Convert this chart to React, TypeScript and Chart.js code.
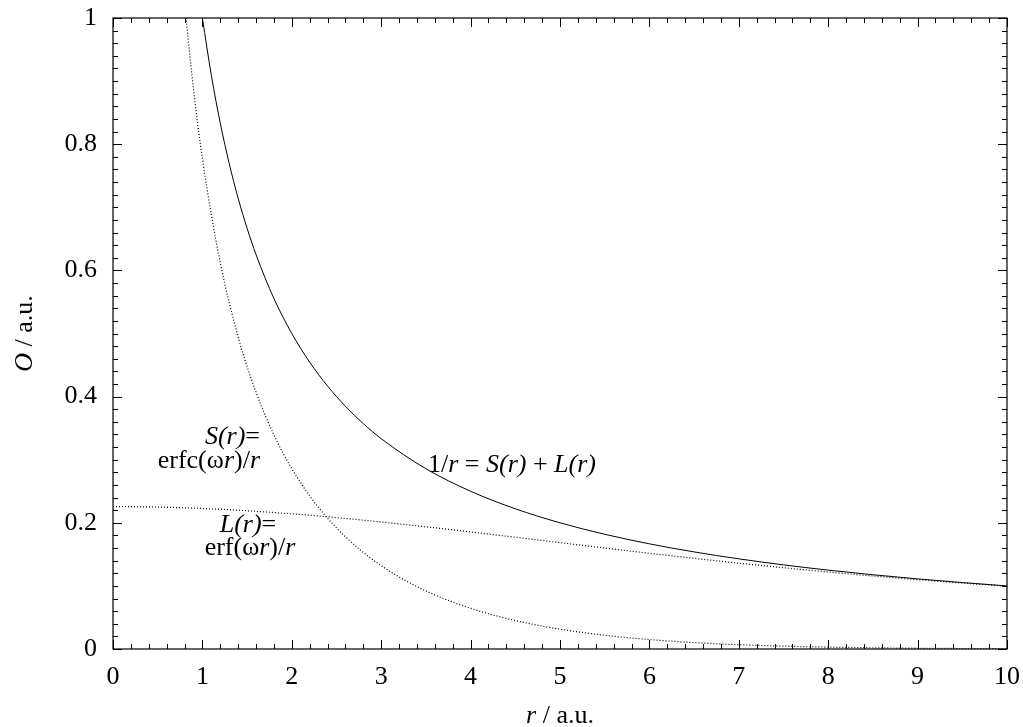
import React, { useEffect, useRef } from "react";
import { Chart, registerables } from "chart.js";

Chart.register(...registerables);

// r values and 1/r (total potential)
const rTotal = [1.0, 1.1, 1.2, 1.3, 1.4, 1.5, 1.6, 1.8, 2.0, 2.2, 2.4, 2.6, 2.8, 3.0, 3.5, 4.0, 4.5, 5.0, 5.5, 6.0, 6.5, 7.0, 7.5, 8.0, 8.5, 9.0, 9.5, 10.0];
const totalValues = [1.0, 0.90909, 0.83333, 0.76923, 0.71429, 0.66667, 0.625, 0.55556, 0.5, 0.45455, 0.41667, 0.38462, 0.35714, 0.33333, 0.28571, 0.25, 0.22222, 0.2, 0.18182, 0.16667, 0.15385, 0.14286, 0.13333, 0.125, 0.11765, 0.11111, 0.10526, 0.1];

// short-range part S(r) = erfc(wr)/r
const rShort = [0.7, 0.75, 0.8, 0.9, 1.0, 1.2, 1.4, 1.5, 1.6, 1.8, 2.0, 2.2, 2.4, 2.5, 2.6, 2.8, 3.0, 3.2, 3.4, 3.6, 3.8, 4.0, 4.2, 4.4, 4.6, 4.8, 5.0, 5.5, 6.0, 6.5, 7.0, 7.5, 8.0, 8.5, 9.0, 9.5, 10.0];
const shortValues = [1.2044, 1.1093, 1.02624, 0.88785, 0.7773, 0.61192, 0.49437, 0.44758, 0.4068, 0.33926, 0.2858, 0.24262, 0.20719, 0.1918, 0.17773, 0.15299, 0.13205, 0.11419, 0.09889, 0.08571, 0.07433, 0.06447, 0.05592, 0.04848, 0.04201, 0.03637, 0.03146, 0.02178, 0.01495, 0.01015, 0.00682, 0.00452, 0.00296, 0.00191, 0.00121, 0.00076, 0.00047];

// long-range part L(r) = erf(wr)/r
const rLong = [0.0, 0.2, 0.4, 0.6, 0.8, 1.0, 1.2, 1.4, 1.6, 1.8, 2.0, 2.2, 2.4, 2.6, 2.8, 3.0, 3.2, 3.4, 3.6, 3.8, 4.0, 4.2, 4.4, 4.6, 4.8, 5.0, 5.5, 6.0, 6.5, 7.0, 7.5, 8.0, 8.5, 9.0, 9.5, 10.0];
const longValues = [0.22568, 0.22556, 0.2252, 0.2246, 0.22377, 0.2227, 0.22142, 0.21991, 0.2182, 0.21629, 0.2142, 0.21192, 0.20948, 0.20688, 0.20415, 0.20129, 0.19831, 0.19523, 0.19206, 0.18883, 0.18553, 0.18218, 0.17879, 0.17539, 0.17196, 0.16854, 0.16004, 0.15172, 0.14369, 0.13604, 0.12881, 0.12204, 0.11574, 0.1099, 0.10451, 0.09953];

// tick labels
const xTickLabels = ["0", "1", "2", "3", "4", "5", "6", "7", "8", "9", "10"];
const yTickLabels = ["0", "0.2", "0.4", "0.6", "0.8", "1"];

const FONT = '"Liberation Serif", "Times New Roman", serif';

type Seg = [string, boolean];

function drawRich(ctx: CanvasRenderingContext2D, segs: Seg[], x: number, y: number, align: "left" | "center" | "right", size: number) {
  const fontOf = (it: boolean) => `${it ? "italic " : ""}${size}px ${FONT}`;
  let total = 0;
  const widths = segs.map(([t, it]) => {
    ctx.font = fontOf(it);
    const w = ctx.measureText(t).width;
    total += w;
    return w;
  });
  let cx = align === "left" ? x : align === "center" ? x - total / 2 : x - total;
  ctx.textAlign = "left";
  ctx.textBaseline = "alphabetic";
  segs.forEach(([t, it], i) => {
    ctx.font = fontOf(it);
    ctx.fillText(t, cx, y);
    cx += widths[i];
  });
}

const framePlugin = {
  id: "frame",
  afterDatasetsDraw(chart: any) {
    const ctx: CanvasRenderingContext2D = chart.ctx;
    const { left, right, top, bottom } = chart.chartArea;
    const xs = chart.scales.x;
    const ys = chart.scales.y;
    ctx.save();
    ctx.strokeStyle = "#000";
    ctx.lineWidth = 1.2;
    ctx.strokeRect(left, top, right - left, bottom - top);
    ctx.lineWidth = 1;
    ctx.beginPath();
    for (let i = 0; i <= 50; i++) {
      const v = i * 0.2;
      const px = Math.round(xs.getPixelForValue(v)) + 0.5;
      const len = i % 5 === 0 ? 9 : 5;
      ctx.moveTo(px, bottom);
      ctx.lineTo(px, bottom - len);
      ctx.moveTo(px, top);
      ctx.lineTo(px, top + len);
    }
    for (let i = 0; i <= 50; i++) {
      const v = i * 0.02;
      const py = Math.round(ys.getPixelForValue(v)) + 0.5;
      const len = i % 10 === 0 ? 9 : 5;
      ctx.moveTo(left, py);
      ctx.lineTo(left + len, py);
      ctx.moveTo(right, py);
      ctx.lineTo(right - len, py);
    }
    ctx.stroke();

    ctx.fillStyle = "#000";
    const fs = 26;
    // axis titles
    drawRich(ctx, [["r", true], [" / a.u.", false]], (left + right) / 2, 723, "center", fs);
    ctx.save();
    ctx.translate(32, (top + bottom) / 2);
    ctx.rotate(-Math.PI / 2);
    drawRich(ctx, [["O", true], [" / a.u.", false]], 0, 0, "center", fs);
    ctx.restore();

    // curve labels
    drawRich(ctx, [["S(r)", true], ["=", false]], 260, 444, "right", fs);
    drawRich(ctx, [["erfc(ω", false], ["r", true], [")/", false], ["r", true]], 260, 468, "right", fs);
    drawRich(ctx, [["L(r)", true], ["=", false]], 248, 532, "center", fs);
    drawRich(ctx, [["erf(ω", false], ["r", true], [")/", false], ["r", true]], 250, 555, "center", fs);
    drawRich(ctx, [["1/", false], ["r", true], [" = ", false], ["S(r)", true], [" + ", false], ["L(r)", true]], 428, 472, "left", fs);
    ctx.restore();
  },
};

const noPad = (s: any) => {
  s.paddingTop = 0;
  s.paddingBottom = 0;
  s.paddingLeft = 0;
  s.paddingRight = 0;
};

export default function App() {
  const ref = useRef<HTMLCanvasElement | null>(null);
  useEffect(() => {
    if (!ref.current) return;
    const toPts = (xs: number[], ys: number[]) => xs.map((x, i) => ({ x, y: ys[i] }));
    const chart = new Chart(ref.current, {
      type: "line",
      data: {
        datasets: [
          {
            label: "1/r",
            data: toPts(rTotal, totalValues),
            borderColor: "#000",
            borderWidth: 1,
            pointRadius: 0,
            cubicInterpolationMode: "monotone",
            fill: false,
            clip: 0,
          },
          {
            label: "S(r)",
            data: toPts(rShort, shortValues),
            borderColor: "#000",
            borderWidth: 1.2,
            borderDash: [1, 2],
            pointRadius: 0,
            cubicInterpolationMode: "monotone",
            fill: false,
            clip: 0,
          },
          {
            label: "L(r)",
            data: toPts(rLong, longValues),
            borderColor: "#000",
            borderWidth: 1.2,
            borderDash: [1, 2],
            pointRadius: 0,
            cubicInterpolationMode: "monotone",
            fill: false,
            clip: 0,
          },
        ] as any,
      },
      options: {
        animation: false,
        responsive: false,
        devicePixelRatio: 1,
        layout: { padding: { top: 18, right: 16, left: 0, bottom: 0 } },
        plugins: { legend: { display: false }, tooltip: { enabled: false } },
        events: [],
        scales: {
          x: {
            type: "linear",
            min: 0,
            max: 10,
            grid: { display: false, drawTicks: false },
            border: { display: false },
            ticks: {
              stepSize: 1,
              color: "#000",
              font: { family: FONT, size: 26 },
              padding: 13,
              maxRotation: 0,
              autoSkip: false,
              callback: (_v: any, i: number) => xTickLabels[i],
            },
            afterFit: (s: any) => { s.height = 78; noPad(s); },
          },
          y: {
            type: "linear",
            min: 0,
            max: 1,
            grid: { display: false, drawTicks: false },
            border: { display: false },
            ticks: {
              stepSize: 0.2,
              color: "#000",
              font: { family: FONT, size: 26 },
              padding: 16,
              autoSkip: false,
              callback: (_v: any, i: number) => yTickLabels[i],
            },
            afterFit: (s: any) => { s.width = 113; noPad(s); },
          },
        },
      } as any,
      plugins: [framePlugin],
    });
    return () => chart.destroy();
  }, []);
  return (
    <div style={{ position: "fixed", left: 0, top: 0, width: 1023, height: 727, background: "#fff" }}>
      <canvas ref={ref} width={1023} height={727} style={{ display: "block" }} />
    </div>
  );
}
